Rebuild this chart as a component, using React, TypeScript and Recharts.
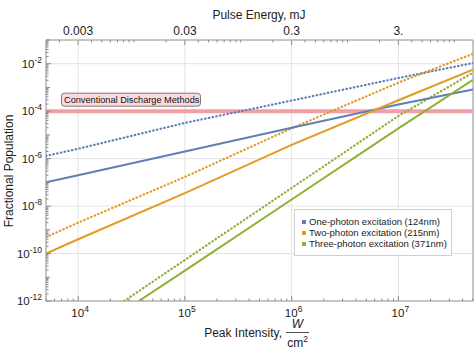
import React from 'react';
import { LineChart, Line, XAxis, YAxis, ReferenceLine, ReferenceArea, Legend } from 'recharts';

// peak intensity (W/cm^2) sample points
const intensity = [5e3, 1e4, 1e5, 1e6, 1e7, 5e7];
const oneSolid = [1e-7, 2e-7, 2e-6, 2e-5, 1.9e-4, 8.3e-4];
const oneDotted = [1.3e-6, 2.6e-6, 3.2e-5, 2.8e-4, 2.5e-3, 1.07e-2];
const twoSolid = [1e-10, 4e-10, 3.5e-8, 3.8e-6, 2.9e-4, 5.6e-3];
const twoDotted = [4.9e-10, 2e-9, 1.7e-7, 1.9e-5, 1.6e-3, 2.6e-2];
// three-photon curves enter through the bottom of the frame
const threeSolidX = [3.7e4, 1e5, 1e6, 1e7, 5e7];
const threeSolid = [1e-12, 1.9e-11, 1.9e-8, 1.9e-5, 2.1e-3];
const threeDottedX = [2.7e4, 1e5, 1e6, 1e7, 5e7];
const threeDotted = [1e-12, 5.4e-11, 5.8e-8, 6.3e-5, 4.2e-3];

const dischargeLevel = 1e-4;
const dischargeLabel = 'Conventional Discharge Methods';

const seriesNames = [
  'One-photon excitation (124nm)',
  'Two-photon excitation (215nm)',
  'Three-photon excitation (371nm)',
];
const colors = ['#5E81B5', '#E19C24', '#8FB032'];

const xDomain = [5e3, 5e7];
const yDomain = [1e-12, 1e-1];
const xMajor = [1e4, 1e5, 1e6, 1e7];
const xLabels = ['4', '5', '6', '7'];
const yMajor = [1e-12, 1e-10, 1e-8, 1e-6, 1e-4, 1e-2];
const yLabels = ['-12', '-10', '-8', '-6', '-4', '-2'];
const yGrid = [1e-10, 1e-8, 1e-6, 1e-4, 1e-2];

// pulse energy axis (mJ) on top
const mjPerIntensity = 3e-7;
const energyMajor = [0.003, 0.03, 0.3, 3];
const energyLabels = ['0.003', '0.03', '0.3', '3.'];

const FONT = '"Liberation Sans", Arial, Helvetica, sans-serif';
const FRAME = '#8c8c8c';
const TXT = '#222';

const toPts = (xs: number[], ys: number[]) => xs.map((x, i) => ({ x, y: ys[i] }));

const logTicks = (lo: number, hi: number) => {
  const out: number[] = [];
  for (let e = -13; e <= 8; e++) {
    for (let k = 1; k <= 9; k++) {
      const v = k * Math.pow(10, e);
      if (v >= lo * 0.999 && v <= hi * 1.001) out.push(v);
    }
  }
  return out;
};
const same = (a: number, b: number) => Math.abs(a / b - 1) < 1e-6;

const xTicks = logTicks(xDomain[0], xDomain[1]);
const yTicks = logTicks(yDomain[0], yDomain[1]);
const topTicks = logTicks(xDomain[0] * mjPerIntensity, xDomain[1] * mjPerIntensity).map(
  (e) => e / mjPerIntensity
);

const LeftTick = (props: any) => {
  const { x, y, payload } = props;
  const v = payload.value;
  const idx = yMajor.findIndex((m) => same(m, v));
  const decade = same(Math.pow(10, Math.round(Math.log10(v))), v);
  const len = idx >= 0 ? 5 : decade ? 4 : 2.5;
  return (
    <g>
      <line x1={x} x2={x + len} y1={y} y2={y} stroke={FRAME} strokeWidth={1} />
      {idx >= 0 && (
        <text x={x - 4} y={y + 4} textAnchor="end" fill={TXT} fontFamily={FONT} fontSize={11.5}>
          <tspan>10</tspan>
          <tspan dy={-5} fontSize={8.5}>{yLabels[idx]}</tspan>
        </text>
      )}
    </g>
  );
};

const BottomTick = (props: any) => {
  const { x, y, payload } = props;
  const idx = xMajor.findIndex((m) => same(m, payload.value));
  const len = idx >= 0 ? 5 : 2.5;
  return (
    <g>
      <line x1={x} x2={x} y1={y} y2={y - len} stroke={FRAME} strokeWidth={1} />
      {idx >= 0 && (
        <text x={x + 2} y={y + 16} textAnchor="middle" fill={TXT} fontFamily={FONT} fontSize={11.5}>
          <tspan>10</tspan>
          <tspan dy={-5} fontSize={8.5}>{xLabels[idx]}</tspan>
        </text>
      )}
    </g>
  );
};

const TopTick = (props: any) => {
  const { x, y, payload } = props;
  const e = payload.value * mjPerIntensity;
  const idx = energyMajor.findIndex((m) => same(m, e));
  const len = idx >= 0 ? 5 : 2.5;
  return (
    <g>
      <line x1={x} x2={x} y1={y} y2={y + len} stroke={FRAME} strokeWidth={1} />
      {idx >= 0 && (
        <text x={x} y={y - 5} textAnchor="middle" fill={TXT} fontFamily={FONT} fontSize={12}>
          {energyLabels[idx]}
        </text>
      )}
    </g>
  );
};

const DischargeTag = (props: any) => {
  const vb = props.viewBox || {};
  const bx = vb.x + 15.5;
  const by = vb.y - 18;
  return (
    <g>
      <rect x={bx} y={by} width={139} height={13} rx={3} fill="#FADADD" stroke="#8a7474" strokeWidth={1} />
      <text x={bx + 2.5} y={by + 10} fill="#111" fontFamily={FONT} fontSize={9.2}>
        {dischargeLabel}
      </text>
    </g>
  );
};

const LegendBox = () => (
  <div
    style={{
      boxSizing: 'border-box',
      width: 158,
      height: 47,
      border: '1px solid #cfcfcf',
      background: '#fff',
      paddingTop: 6,
      fontFamily: FONT,
      fontSize: 9.5,
      color: TXT,
    }}
  >
    {seriesNames.map((name, i) => (
      <div key={name} style={{ display: 'flex', alignItems: 'center', height: 11, paddingLeft: 7 }}>
        <span style={{ width: 4, height: 4, background: colors[i], marginRight: 3, display: 'inline-block' }} />
        <span style={{ whiteSpace: 'nowrap' }}>{name}</span>
      </div>
    ))}
  </div>
);

const dotted = { strokeDasharray: '0.5 3.3', strokeLinecap: 'round' as const, strokeWidth: 2.2 };

export default function App() {
  return (
    <div style={{ position: 'absolute', left: 0, top: 0, width: 474, height: 351, background: '#fff' }}>
      <LineChart width={474} height={351} margin={{ top: 0, right: 1, bottom: 0, left: 0 }}>
        <XAxis
          xAxisId="bottom"
          type="number"
          dataKey="x"
          scale="log"
          domain={xDomain}
          allowDataOverflow
          ticks={xTicks}
          interval={0}
          tick={<BottomTick />}
          tickSize={0}
          tickMargin={0}
          tickLine={false}
          axisLine={false}
          height={50}
          orientation="bottom"
        />
        <XAxis
          xAxisId="top"
          type="number"
          dataKey="x"
          scale="log"
          domain={xDomain}
          allowDataOverflow
          ticks={topTicks}
          interval={0}
          tick={<TopTick />}
          tickSize={0}
          tickMargin={0}
          tickLine={false}
          axisLine={false}
          height={40}
          orientation="top"
        />
        <YAxis
          type="number"
          dataKey="y"
          scale="log"
          domain={yDomain}
          allowDataOverflow
          ticks={yTicks}
          interval={0}
          tick={<LeftTick />}
          tickSize={0}
          tickMargin={0}
          tickLine={false}
          axisLine={false}
          width={46}
        />

        {xMajor.map((v) => (
          <ReferenceLine key={`gx${v}`} xAxisId="bottom" x={v} stroke="#e3e3e3" strokeWidth={1} />
        ))}
        {yGrid.map((v) => (
          <ReferenceLine key={`gy${v}`} xAxisId="bottom" y={v} stroke="#e3e3e3" strokeWidth={1} />
        ))}

        <ReferenceLine
          xAxisId="bottom"
          y={dischargeLevel}
          stroke="#F29EA6"
          strokeWidth={4}
          label={<DischargeTag />}
        />

        <Line xAxisId="bottom" data={toPts(intensity, oneDotted)} dataKey="y" stroke={colors[0]} {...dotted} dot={false} activeDot={false} legendType="none" isAnimationActive={false} />
        <Line xAxisId="bottom" data={toPts(intensity, twoDotted)} dataKey="y" stroke={colors[1]} {...dotted} dot={false} activeDot={false} legendType="none" isAnimationActive={false} />
        <Line xAxisId="bottom" data={toPts(threeDottedX, threeDotted)} dataKey="y" stroke={colors[2]} {...dotted} dot={false} activeDot={false} legendType="none" isAnimationActive={false} />
        <Line xAxisId="bottom" data={toPts(intensity, oneSolid)} dataKey="y" name={seriesNames[0]} stroke={colors[0]} strokeWidth={2} dot={false} activeDot={false} isAnimationActive={false} />
        <Line xAxisId="bottom" data={toPts(intensity, twoSolid)} dataKey="y" name={seriesNames[1]} stroke={colors[1]} strokeWidth={2} dot={false} activeDot={false} isAnimationActive={false} />
        <Line xAxisId="bottom" data={toPts(threeSolidX, threeSolid)} dataKey="y" name={seriesNames[2]} stroke={colors[2]} strokeWidth={2} dot={false} activeDot={false} isAnimationActive={false} />

        <ReferenceArea
          xAxisId="bottom"
          x1={xDomain[0]}
          x2={xDomain[1]}
          y1={yDomain[0]}
          y2={yDomain[1]}
          fill="none"
          stroke={FRAME}
          strokeWidth={1}
        />

        <Legend
          layout="vertical"
          align="center"
          verticalAlign="middle"
          content={<LegendBox />}
          wrapperStyle={{ left: 294, top: 209, width: 158, height: 47 }}
        />
      </LineChart>

      <svg
        width={474}
        height={351}
        style={{ position: 'absolute', left: 0, top: 0, pointerEvents: 'none' }}
        fontFamily={FONT}
        fill={TXT}
      >
        <text x={259} y={19} textAnchor="middle" fontSize={12}>Pulse Energy, mJ</text>
        <text x={12.5} y={171} textAnchor="middle" fontSize={12} transform="rotate(-90 12.5 171)">
          Fractional Population
        </text>
        <text x={282} y={337} textAnchor="end" fontSize={12}>Peak Intensity,</text>
        <text x={297.5} y={328} textAnchor="middle" fontSize={12} fontStyle="italic">W</text>
        <line x1={286} x2={309} y1={332.5} y2={332.5} stroke={TXT} strokeWidth={0.8} />
        <text x={297.5} y={347} textAnchor="middle" fontSize={12}>
          <tspan>cm</tspan>
          <tspan dy={-5} fontSize={8.5}>2</tspan>
        </text>
      </svg>
    </div>
  );
}
